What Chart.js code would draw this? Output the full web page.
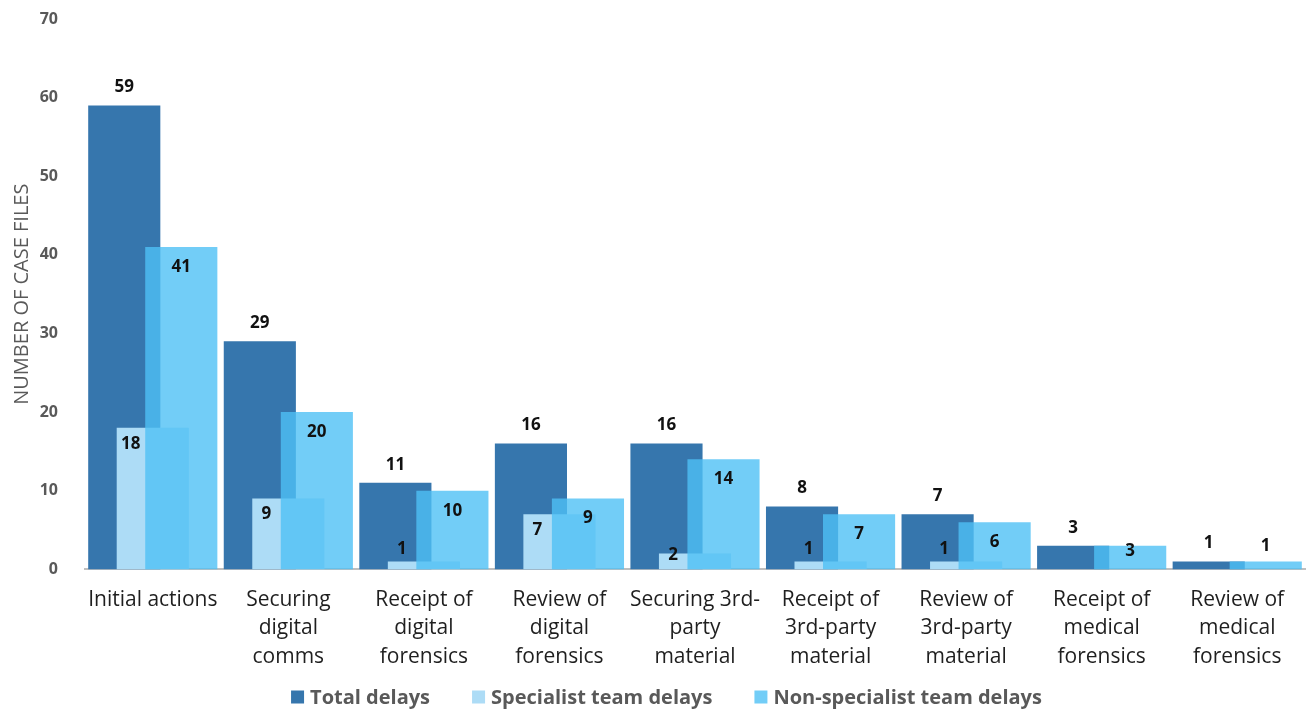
<!DOCTYPE html>
<html>
<head>
<meta charset="utf-8">
<script src="https://cdn.jsdelivr.net/npm/chart.js@4.4.1/dist/chart.umd.min.js"></script>
<style>
  html, body { margin: 0; padding: 0; background: #fff; }
  #wrap { width: 1313px; height: 711px; }
</style>
</head>
<body>
<div id="wrap"><canvas id="delaysChart" width="1313" height="711"></canvas></div>
<script>
/* delays by stage – overlapping grouped bars */

const categories = [
  "Initial actions",
  ["Securing", "digital", "comms"],
  ["Receipt of", "digital", "forensics"],
  ["Review of", "digital", "forensics"],
  ["Securing 3rd-", "party", "material"],
  ["Receipt of", "3rd-party", "material"],
  ["Review of", "3rd-party", "material"],
  ["Receipt of", "medical", "forensics"],
  ["Review of", "medical", "forensics"],
];
const totalDelays = [59, 29, 11, 16, 16, 8, 7, 3, 1];
const specialistDelays = [18, 9, 1, 7, 2, 1, 1, null, null];
const nonSpecialistDelays = [41, 20, 10, 9, 14, 7, 6, 3, 1];
const yTickMin = 0;
const yTickMax = 70;
const yTickStep = 10;

const FONT = "'Open Sans', Lato, sans-serif";

// value labels: total above the bar, the two team series inside the top
function drawBarLabels(chart) {
  const { ctx } = chart;
  const base = chart.scales.y.getPixelForValue(0);
  ctx.save();
  ctx.font = `bold 17px ${FONT}`;
  ctx.fillStyle = "#111";
  ctx.textAlign = "center";
  ctx.textBaseline = "middle";
  chart.data.datasets.forEach((ds, di) => {
    chart.getDatasetMeta(di).data.forEach((bar, i) => {
      const v = ds.data[i];
      if (v == null) return;
      let x = bar.x;
      let y;
      if (di === 0) {
        y = bar.y - 18;
      } else if (di === 1) {
        x = bar.x - 22;
        y = v < 2 ? bar.y - 12 : Math.min(bar.y + 16, base - 14);
      } else {
        y = v < 2 ? bar.y - 15 : Math.min(bar.y + 20, base - 18);
      }
      ctx.fillText(String(v), x, y);
    });
  });
  ctx.restore();
}

// Chart.js paints dataset 0 last; here the first dataset goes underneath
const drawOrder = {
  id: "drawOrder",
  beforeDatasetsDraw(chart) {
    chart.data.datasets.forEach((ds, i) => {
      const meta = chart.getDatasetMeta(i);
      if (meta.visible !== false) meta.controller.draw();
    });
    drawBarLabels(chart);
    return false;
  },
};

// legend row along the bottom edge
const bottomLegend = {
  id: "bottomLegend",
  afterDraw(chart) {
    const { ctx } = chart;
    const box = 13;
    const textGap = 6;
    const itemGap = 42;
    const y = chart.height - 14;
    ctx.save();
    ctx.font = `bold 20px ${FONT}`;
    ctx.textBaseline = "middle";
    const items = chart.data.datasets.map((ds) => ({
      text: ds.label,
      color: ds.backgroundColor,
      w: box + textGap + ctx.measureText(ds.label).width,
    }));
    const total = items.reduce((s, it) => s + it.w, 0) + itemGap * (items.length - 1);
    let x = chart.width / 2 + 10 - total / 2;
    items.forEach((it) => {
      ctx.fillStyle = it.color;
      ctx.fillRect(x, y - box / 2, box, box);
      ctx.fillStyle = "#595959";
      ctx.fillText(it.text, x + box + textGap, y + 1);
      x += it.w + itemGap;
    });
    ctx.restore();
  },
};

function drawDelays() {
  const ctx = document.getElementById("delaysChart");
  new Chart(ctx, {
    type: "bar",
    data: {
      labels: categories,
      datasets: [
        {
          label: "Total delays",
          data: totalDelays,
          backgroundColor: "#3676ad",
        },
        {
          label: "Specialist team delays",
          data: specialistDelays,
          backgroundColor: "#addcf6",
        },
        {
          label: "Non-specialist team delays",
          data: nonSpecialistDelays,
          backgroundColor: "rgba(79,192,245,0.8)",
        },
      ],
    },
    options: {
      responsive: false,
      devicePixelRatio: 1,
      animation: false,
      // bars wider than their slot so they overlap each other
      categoryPercentage: 0.631,
      barPercentage: 2.53,
      layout: { padding: { top: 0, right: 8, left: 0, bottom: 24 } },
      scales: {
        x: {
          grid: { drawOnChartArea: false, drawTicks: false },
          border: { display: true, color: "#bfbfbf", width: 2 },
          ticks: {
            color: "#1f1f1f",
            font: { family: FONT, size: 21, lineHeight: 1.36 },
            padding: 16,
            maxRotation: 0,
            autoSkip: false,
          },
        },
        y: {
          min: yTickMin,
          max: yTickMax,
          grid: { display: false, drawTicks: false },
          border: { display: false },
          ticks: {
            stepSize: yTickStep,
            color: "#595959",
            font: { family: FONT, size: 16, weight: "bold", lineHeight: 1 },
            padding: 27,
          },
          title: {
            display: true,
            text: "NUMBER OF CASE FILES",
            color: "#595959",
            font: { family: FONT, size: 20 },
            padding: { top: 10, bottom: 0 },
          },
          afterFit(scale) {
            scale.width = 85;
            // tick padding is horizontal here, keep it out of the top/bottom room
            scale.paddingTop = 19;
            scale.paddingBottom = 0;
          },
        },
      },
      plugins: {
        legend: { display: false },
        tooltip: { enabled: false },
      },
    },
    plugins: [drawOrder, bottomLegend],
  });
}

drawDelays();
</script>
</body>
</html>
